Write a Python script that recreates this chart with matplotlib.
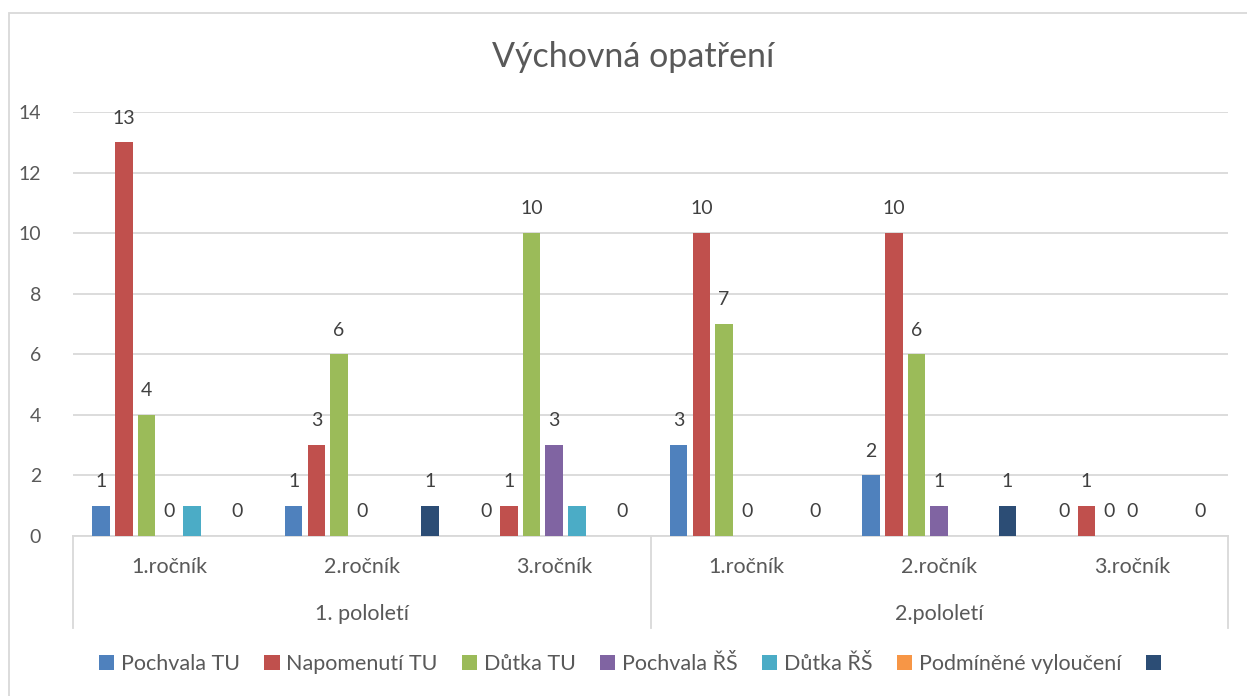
import numpy as np
import matplotlib.pyplot as plt
from matplotlib.patches import Rectangle

plt.rcParams['font.family'] = ['Lato', 'DejaVu Sans']

rocniky = ['1.ročník', '2.ročník', '3.ročník', '1.ročník', '2.ročník', '3.ročník']
pololeti = ['1. pololetí', '2.pololetí']

series_names = ['Pochvala TU', 'Napomenutí TU', 'Důtka TU', 'Pochvala ŘŠ',
                'Důtka ŘŠ', 'Podmíněné vyloučení', ' ']
pochvala_tu = [1, 1, 0, 3, 2, 0]
napomenuti_tu = [13, 3, 1, 10, 10, 1]
dutka_tu = [4, 6, 10, 7, 6, 0]
pochvala_rs = [0, 0, 3, 0, 1, 0]
dutka_rs = [1, 0, 1, 0, 0, 0]
podminene = [0, 0, 0, 0, 0, 0]
bez_nazvu = [0, 1, 0, 0, 1, 0]
# which series show data labels
show_labels = [True, True, True, True, False, False, True]

colors = ['#4F81BD', '#C0504D', '#9BBB59', '#8064A2', '#4BACC6', '#F79646', '#2C4D75']
text_col = '#595959'
grid_col = '#D9D9D9'

fig = plt.figure(figsize=(12.47, 6.96), dpi=100)
W, H = 1247, 696
ax = fig.add_axes([73 / W, 1 - 536 / H, (1228 - 73) / W, (536 - 112) / H])

all_series = [pochvala_tu, napomenuti_tu, dutka_tu, pochvala_rs, dutka_rs, podminene, bez_nazvu]
x = np.arange(len(rocniky))
step = 0.118
width = 0.091
handles = []
for i, vals in enumerate(all_series):
    pos = x + (i - 3) * step
    bars = ax.bar(pos, vals, width=width, color=colors[i], linewidth=0, zorder=3)
    handles.append(bars)
    if show_labels[i]:
        for px, v in zip(pos, vals):
            ax.annotate(str(v), (px, v), xytext=(0, 13.5), textcoords='offset points',
                        ha='center', va='baseline', fontsize=14, color='#404040')

ax.set_xlim(-0.5, 5.5)
ax.set_ylim(0, 14)
ax.set_yticks(range(0, 15, 2))
ax.yaxis.grid(True, color=grid_col, linewidth=1.3, zorder=0)
ax.tick_params(axis='y', length=0, pad=23, labelsize=14, labelcolor=text_col)
ax.set_xticks([])
for s in ['top', 'right', 'left']:
    ax.spines[s].set_visible(False)
ax.spines['bottom'].set_color(grid_col)
ax.spines['bottom'].set_linewidth(1.3)

# two-level category axis
tr = ax.get_xaxis_transform()
y1 = -(567 - 536) / (536 - 112)
y2 = -(614 - 536) / (536 - 112)
ybot = -(628 - 536) / (536 - 112)
for xi, lab in zip(x, rocniky):
    ax.text(xi, y1, lab, transform=tr, ha='center', va='center', fontsize=15.5, color=text_col)
for k, lab in enumerate(pololeti):
    ax.text(1 + 3 * k, y2, lab, transform=tr, ha='center', va='center', fontsize=15.5, color=text_col)
for xs in [-0.5, 2.5, 5.5]:
    ax.plot([xs, xs], [0, ybot], transform=tr, color=grid_col, linewidth=1.3, clip_on=False)

fig.text(633 / W, 1 - 57 / H, 'Výchovná opatření', ha='center', va='center',
         fontsize=24.5, color=text_col)

fig.legend(handles, series_names, loc='center', bbox_to_anchor=(636 / W, 1 - 664 / H), ncol=7,
           frameon=False, handlelength=0.7, handleheight=0.7, handletextpad=0.3,
           columnspacing=1.15, fontsize=15.5, labelcolor=text_col)

# chart border (only top and left visible)
fig.add_artist(Rectangle((9 / W, -0.01), 1.02, 1 - 13 / H + 0.01, transform=fig.transFigure,
                         fill=False, edgecolor=grid_col, linewidth=1.3))

fig.savefig('out.png', dpi=100, facecolor='white')
